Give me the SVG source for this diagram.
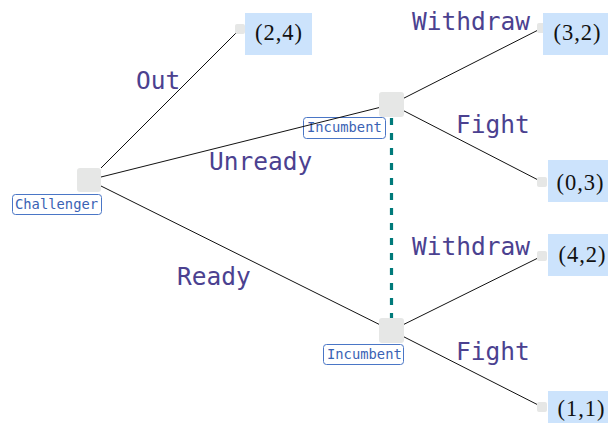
<svg xmlns="http://www.w3.org/2000/svg" width="608" height="423" viewBox="0 0 608 423">
<style>
.sq{fill:#e6e7e6}
.tsq{fill:#e6e7e6}
.lbl{fill:#ffffff;stroke:#4a76c6;stroke-width:1}
.lt{font-family:"DejaVu Sans Mono",monospace;font-size:13.8px;fill:#3a62b4}
.pay{fill:#cce3fc}
.pt{font-family:"Liberation Serif",serif;font-size:22.5px;fill:#111;text-anchor:middle}
.el{font-family:"DejaVu Sans Mono",monospace;font-size:24.5px;fill:#4b4190}
.edge{stroke:#111;stroke-width:1;fill:none}
.info{stroke:#007a7a;stroke-width:3.2;stroke-dasharray:7 8;fill:none}
</style>
<rect width="608" height="423" fill="#ffffff"/>
<g id="challenger">
<rect class="sq" x="77" y="168" width="24" height="24" rx="3"/>
<rect class="lbl" x="12.5" y="194.5" width="89" height="20" rx="3"/>
<text class="lt" x="15" y="209">Challenger</text>
</g>
<g id="incumbent-top">
<rect class="lbl" x="303.5" y="117.5" width="82" height="21" rx="3"/>
<text class="lt" x="307" y="132">Incumbent</text>
</g>
<g id="incumbent-bottom">
<rect class="lbl" x="323.5" y="344.5" width="80" height="20" rx="3"/>
<text class="lt" x="327" y="359">Incumbent</text>
</g>
<g id="connectors">
<line class="edge" x1="101" y1="168" x2="236" y2="33"/>
<line class="edge" x1="101" y1="177" x2="379" y2="107.6"/>
<line class="edge" x1="101" y1="186" x2="379" y2="324.3"/>
<line class="edge" x1="404" y1="98.1" x2="537" y2="30.6"/>
<line class="edge" x1="404" y1="110.9" x2="537" y2="179.4"/>
<line class="edge" x1="404" y1="324.3" x2="537" y2="258.5"/>
<line class="edge" x1="404" y1="336.9" x2="537" y2="404.4"/>
<line class="info" x1="391.5" y1="118" x2="391.5" y2="318"/>
<text class="el" x="136" y="89">Out</text>
<text class="el" x="209" y="170">Unready</text>
<text class="el" x="177" y="285">Ready</text>
<text class="el" x="412" y="30">Withdraw</text>
<text class="el" x="456" y="133">Fight</text>
<text class="el" x="412" y="255">Withdraw</text>
<text class="el" x="456" y="360">Fight</text>
</g>
<g id="incumbent-top-node">
<rect class="sq" x="379" y="92" width="25" height="25" rx="3"/>
</g>
<g id="incumbent-bottom-node">
<rect class="sq" x="379" y="318" width="25" height="25" rx="3"/>
</g>
<g id="leaf-2-4">
<rect class="tsq" x="235" y="24" width="10" height="10" rx="2"/>
<rect class="pay" x="245" y="13" width="67" height="42"/>
<text class="pt" x="278.5" y="40" textLength="47" lengthAdjust="spacing">(2,4)</text>
</g>
<g id="leaf-3-2">
<rect class="tsq" x="537" y="23" width="10" height="10" rx="2"/>
<rect class="pay" x="543" y="13" width="67" height="42"/>
<text class="pt" x="577" y="40" textLength="47" lengthAdjust="spacing">(3,2)</text>
</g>
<g id="leaf-0-3">
<rect class="tsq" x="537" y="177" width="10" height="10" rx="2"/>
<rect class="pay" x="548" y="160" width="67" height="42"/>
<text class="pt" x="580" y="190" textLength="47" lengthAdjust="spacing">(0,3)</text>
</g>
<g id="leaf-4-2">
<rect class="tsq" x="537" y="251" width="10" height="10" rx="2"/>
<rect class="pay" x="548" y="234" width="67" height="42"/>
<text class="pt" x="582" y="262" textLength="47" lengthAdjust="spacing">(4,2)</text>
</g>
<g id="leaf-1-1">
<rect class="tsq" x="537" y="402" width="10" height="10" rx="2"/>
<rect class="pay" x="548" y="391" width="67" height="42"/>
<text class="pt" x="581" y="416" textLength="47" lengthAdjust="spacing">(1,1)</text>
</g>
</svg>
